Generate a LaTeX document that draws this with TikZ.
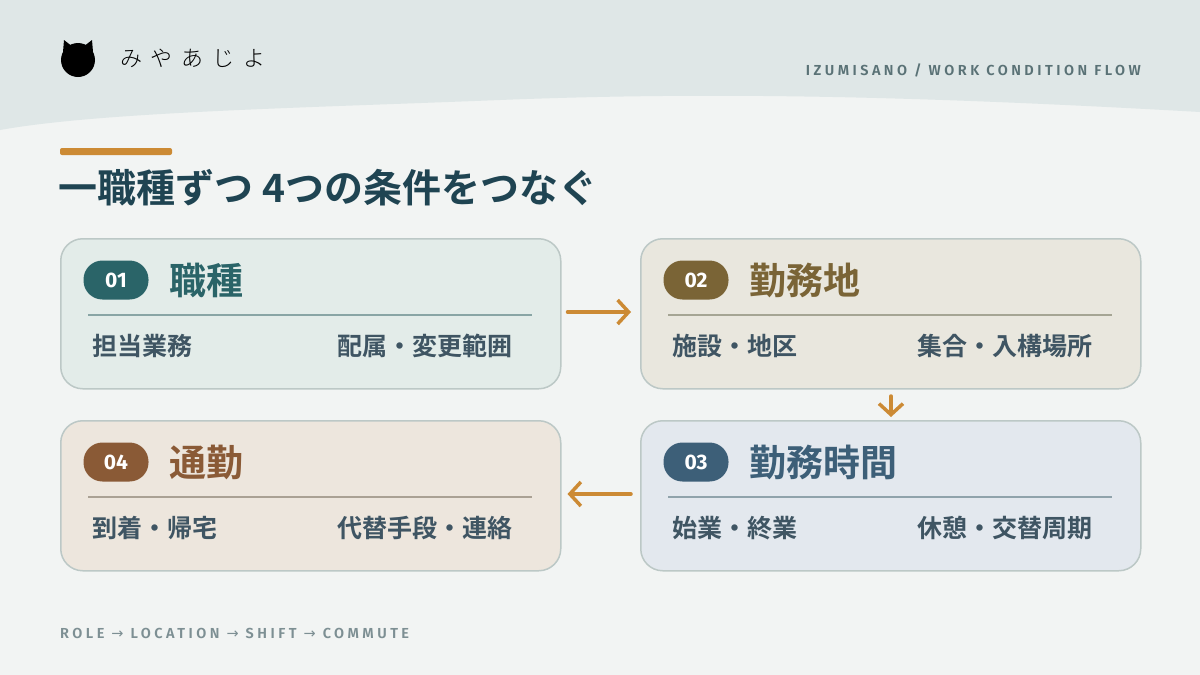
\documentclass[tikz,border=0pt]{standalone}
\usepackage{fontspec}
\usetikzlibrary{arrows.meta}
\setmainfont{Noto Sans CJK JP}
\newfontfamily\jpb{Noto Sans CJK JP Bold}
\newfontfamily\jpl[LetterSpace=40]{Noto Sans CJK JP Light}
\newfontfamily\hdr[LetterSpace=24]{Fira Sans SemiBold}
\newfontfamily\numf{Fira Sans Bold}
\newfontfamily\dv{DejaVu Sans}
\definecolor{bgtop}{HTML}{DFE7E7}
\definecolor{bg}{HTML}{F2F4F3}
\definecolor{orng}{HTML}{CC8A34}
\definecolor{ttl}{HTML}{1F4452}
\definecolor{itm}{HTML}{3F5563}
\definecolor{bord}{HTML}{BCC8C6}
\definecolor{hdc}{HTML}{5A7276}
\definecolor{ftc}{HTML}{7D8F93}
\definecolor{fa}{HTML}{E3ECE9}\definecolor{pa}{HTML}{2A6468}
\definecolor{fb}{HTML}{E9E7DE}\definecolor{pb}{HTML}{7A6436}
\definecolor{fc}{HTML}{E3E8EE}\definecolor{pc}{HTML}{3D5F78}
\definecolor{fd}{HTML}{EDE6DD}\definecolor{pd}{HTML}{8A5A36}
\begin{document}
\begin{tikzpicture}[x=1pt,y=-1pt,
 card/.style={draw=bord,line width=1.5pt,rounded corners=22pt,minimum width=500pt,minimum height=150pt,inner sep=0pt},
 pill/.style={rounded corners=19pt,minimum width=65pt,minimum height=39pt,text=white,font=\numf\fontsize{21}{21}\selectfont,inner sep=0pt},
 head/.style={anchor=west,font=\jpb\fontsize{37}{37}\selectfont,inner sep=0pt},
 item/.style={font=\jpb\fontsize{25}{25}\selectfont,text=itm,inner sep=0pt},
 flow/.style={draw=orng,line width=3.5pt,line cap=round,-{Straight Barb[length=11pt,width=24pt,line width=3.5pt]}}]
\useasboundingbox (0,0) rectangle (1200,675);
\fill[bg] (0,0) rectangle (1200,675);
\fill[bgtop] (0,0) -- (1200,0) -- (1200,112) .. controls (900,95) and (700,92) .. (500,100) .. controls (300,108) and (100,112) .. (0,130) -- cycle;
% logo
\node[fill=black,circle,minimum size=34pt,inner sep=0pt] (cat) at (78,60) {};
\fill[black] (63,52) -- (64,40) -- (73,47) -- cycle;
\fill[black] (93,52) -- (92,40) -- (83,47) -- cycle;
\node[anchor=west,font=\jpl\fontsize{22}{22}\selectfont,inner sep=0pt] (brand) at (120,58) {みやあじよ};
\node[anchor=east,font=\hdr\fontsize{14.5}{14.5}\selectfont,text=hdc,inner sep=0pt] (hd) at (1141,70) {IZUMISANO / WORK CONDITION FLOW};
\fill[orng,rounded corners=2pt] (60,148) rectangle (172,155);
\node[anchor=west,font=\jpb\fontsize{39}{39}\selectfont,text=ttl,inner sep=0pt] (title) at (58,188) {一職種ずつ 4つの条件をつなぐ};
% cards
\foreach \n/\x/\y/\f/\p/\num/\h/\a/\b in {c1/60/238/fa/pa/01/職種/担当業務/配属・変更範囲, c2/640/238/fb/pb/02/勤務地/施設・地区/集合・入構場所, c3/640/420/fc/pc/03/勤務時間/始業・終業/休憩・交替周期, c4/60/420/fd/pd/04/通勤/到着・帰宅/代替手段・連絡}{
 \node[card,fill=\f,anchor=north west] (\n) at (\x,\y) {};
 \node[pill,fill=\p] (\n p) at (\x+56,\y+42) {\num};
 \node[head,text=\p] (\n h) at (\x+109,\y+42) {\h};
 \draw[draw=\p!35!bord,line width=1.5pt] (\x+28,\y+77) -- (\x+472,\y+77);
 \node[item,anchor=west] (\n a) at (\x+32,\y+108) {\a};
 \node[item,anchor=east] (\n b) at (\x+453,\y+108) {\b};
}
\draw[flow] (c1.east |- 0,312) ++(6,0) coordinate (s1) -- ([xshift=-9pt]c2.west |- 0,312);
\draw[flow] (891,396) -- (891,417);
\draw[flow] ([xshift=-9pt]c3.west |- 0,494) -- ([xshift=6pt]c4.east |- 0,494);
\node[anchor=west,font=\hdr\fontsize{14.5}{14.5}\selectfont,text=ftc,inner sep=0pt] (ft) at (60,633) {ROLE {\dv →} LOCATION {\dv →} SHIFT {\dv →} COMMUTE};
\end{tikzpicture}
\end{document}
